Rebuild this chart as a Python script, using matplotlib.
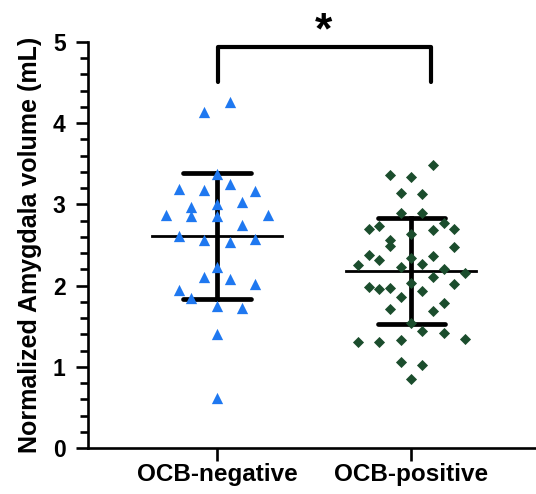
import numpy as np
import matplotlib
matplotlib.use('Agg')
import matplotlib.pyplot as plt
from matplotlib.ticker import MultipleLocator

plt.rcParams['font.family'] = ['Liberation Sans', 'DejaVu Sans']
plt.rcParams['font.weight'] = 'bold'

groups = ['OCB-negative', 'OCB-positive']

# values (mL)
neg_vals = [4.26, 4.13, 3.37, 3.19, 3.17, 3.25, 3.16, 2.97, 3.00, 3.03,
            2.87, 2.86, 2.86, 2.87, 2.75, 2.61, 2.56, 2.54, 2.57, 2.23,
            2.11, 2.08, 2.02, 1.95, 1.85, 1.75, 1.72, 1.40, 0.62]
# horizontal slot of each point in the scatter (in marker steps)
neg_slots = [1, -1, 0, -3, -1, 1, 3, -2, 0, 2,
             -4, -2, 0, 4, 2, -3, -1, 1, 3, 0,
             -1, 1, 3, -3, -2, 0, 2, 0, 0]

pos_vals = [3.48, 3.36, 3.34, 3.14, 3.13, 2.89, 2.89, 2.77, 2.73, 2.69,
            2.68, 2.69, 2.64, 2.56, 2.49, 2.48, 2.37, 2.36, 2.32, 2.34,
            2.25, 2.27, 2.23, 2.20, 2.16, 2.11, 2.03, 2.02, 1.98, 1.96,
            1.97, 1.93, 1.86, 1.79, 1.71, 1.69, 1.54, 1.44, 1.42, 1.31,
            1.31, 1.33, 1.34, 1.06, 1.02, 0.85]
pos_slots = [2, -2, 0, -1, 1, -1, 1, 3, -3, -4,
             2, 4, 0, -2, -2, 4, -4, 2, -3, 0,
             -5, 1, -1, 3, 5, 2, 0, 4, -4, -3,
             -2, 1, -1, 3, -2, 2, 0, 1, 3, -5,
             -3, -1, 5, -1, 1, 0]

fig = plt.figure(figsize=(5.36, 4.94), dpi=100)
ax = fig.add_axes([0.164, 0.093, 0.836, 0.8225])

ax.scatter(0 + np.array(neg_slots) * 0.0653, neg_vals, marker='^', s=66,
           color='#1f78f0', linewidths=0, zorder=3)
ax.scatter(1 + np.array(pos_slots) * 0.0549, pos_vals, marker='D', s=32,
           color='#1b4d2d', linewidths=0, zorder=3)

# mean and SD
for i, vals in enumerate([neg_vals, pos_vals]):
    m = np.mean(vals)
    sd = np.std(vals, ddof=1)
    ax.plot([i - 0.334, i + 0.334], [m, m], color='black', lw=2.0, zorder=2)
    ax.plot([i, i], [m - sd, m + sd], color='black', lw=3.4, zorder=2)
    for y in (m - sd, m + sd):
        ax.plot([i - 0.173, i + 0.173], [y, y], color='black', lw=3.4,
                solid_capstyle='round', zorder=2)

# significance bracket
ax.plot([0.005, 0.005, 1.1, 1.1], [4.50, 4.94, 4.94, 4.50], color='black',
        lw=3.0, solid_capstyle='round', clip_on=False, zorder=4)
ax.text(0.55, 5.12, '*', ha='center', va='center', fontsize=32,
        fontweight='bold')

ax.set_xlim(-0.663, 1.64)
ax.set_ylim(0, 5)
ax.set_xticks([0, 1])
ax.set_xticklabels(groups)
ax.yaxis.set_major_locator(MultipleLocator(1))
ax.yaxis.set_minor_locator(MultipleLocator(0.2))
ax.set_ylabel('Normalized Amygdala volume (mL)', fontsize=18,
              fontweight='bold', labelpad=8)

for s in ['top', 'right']:
    ax.spines[s].set_visible(False)
for s in ['left', 'bottom']:
    ax.spines[s].set_linewidth(1.9)

ax.tick_params(axis='y', which='major', length=9, width=1.9, labelsize=16.5,
               pad=7)
ax.tick_params(axis='y', which='minor', length=6, width=1.9)
ax.tick_params(axis='x', which='major', length=9, width=1.9, labelsize=17.5,
               pad=2)

fig.savefig('out.png', dpi=100)
